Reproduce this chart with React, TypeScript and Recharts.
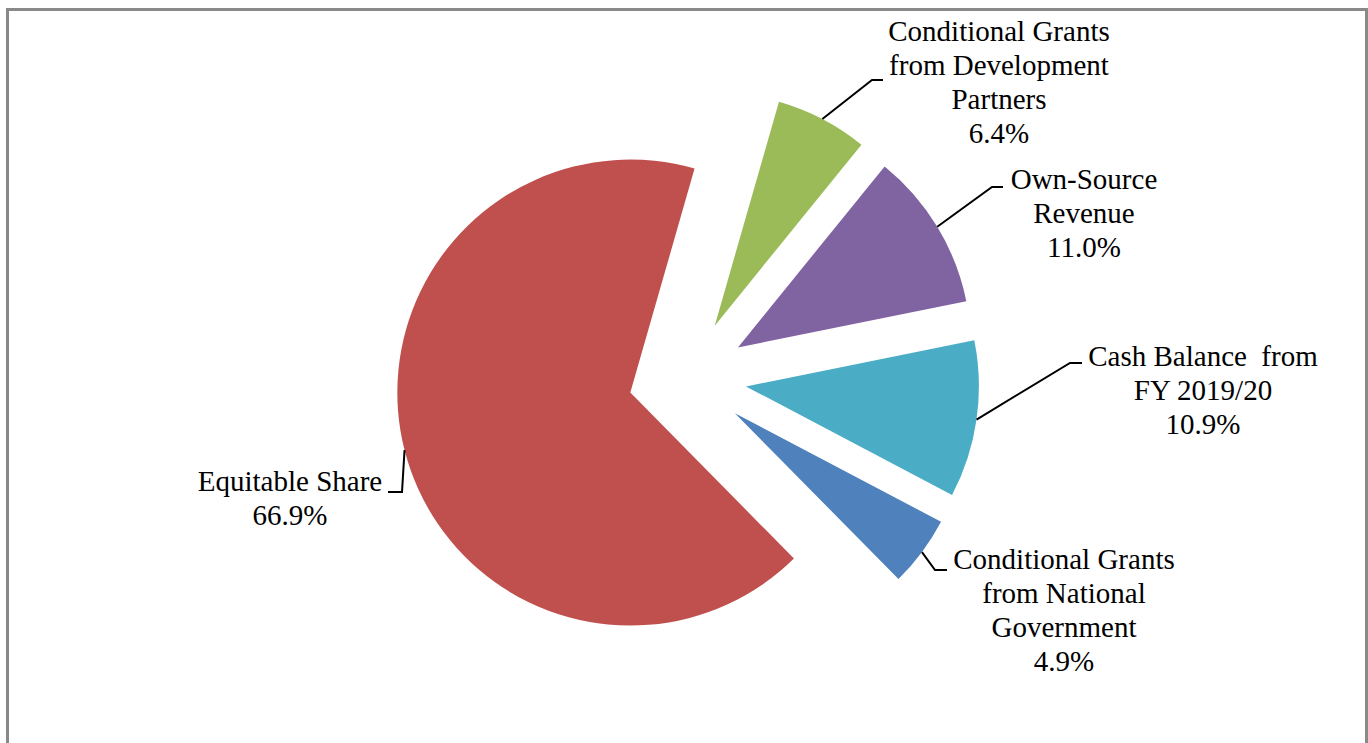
import React from 'react';
import { PieChart, Pie, Cell } from 'recharts';

// ---- data ----
const categories = [
  'Conditional Grants\nfrom Development\nPartners',
  'Own-Source\nRevenue',
  'Cash Balance  from\nFY 2019/20',
  'Conditional Grants\nfrom National\nGovernment',
  'Equitable Share',
];
const shares = [6.4, 11.0, 10.9, 4.9, 66.9];
const colors = ['#9BBB59', '#8064A2', '#4BACC6', '#4F81BD', '#C0504D'];

const data = categories.map((name, i) => ({ name, value: shares[i] }));

// ---- layout ----
const W = 1368;
const H = 743;
const CX = 687.5;
const CY = 378;
const R = 233;
const EXPLODE = 59;
const START = 74;
const END = START - 360;
const FONT = "'Liberation Serif', 'Times New Roman', serif";
const FONT_SIZE = 29;
const LINE_H = 34;

// leader elbow / end, text center x, first line center y
const labelLayout = [
  { elbow: [872, 80], end: [883, 80], tx: 999, ty: 31 },
  { elbow: [992, 187], end: [1003, 187], tx: 1084, ty: 179 },
  { elbow: [1070, 363], end: [1082, 363], tx: 1203, ty: 356 },
  { elbow: [935, 570], end: [947, 570], tx: 1064, ty: 559 },
  { elbow: [402, 492], end: [388, 492], tx: 290, ty: 481 },
];

const total = shares.reduce((a, b) => a + b, 0);
let acc = 0;
const mids = shares.map((v) => {
  const m = START - ((acc + v / 2) / total) * 360;
  acc += v;
  return m;
});

const renderLabel = (i: number) => (props: any) => {
  if (props.index !== i) return null;
  const { cx, cy, midAngle, outerRadius, value } = props;
  const rad = (-midAngle * Math.PI) / 180;
  const px = cx + outerRadius * Math.cos(rad);
  const py = cy + outerRadius * Math.sin(rad);
  const lay = labelLayout[i];
  const lines = [...categories[i].split('\n'), `${Number(value).toFixed(1)}%`];
  return (
    <g key={`lbl-${i}`}>
      <polyline
        points={`${px},${py} ${lay.elbow[0]},${lay.elbow[1]} ${lay.end[0]},${lay.end[1]}`}
        fill="none"
        stroke="#000"
        strokeWidth={2}
      />
      <text
        textAnchor="middle"
        fontFamily={FONT}
        fontSize={FONT_SIZE}
        fill="#000"
        style={{ whiteSpace: 'pre' }}
      >
        {lines.map((l, k) => (
          <tspan key={k} x={lay.tx} y={lay.ty + k * LINE_H + 10}>
            {l}
          </tspan>
        ))}
      </text>
    </g>
  );
};

export default function App() {
  return (
    <div
      style={{
        position: 'absolute',
        left: 0,
        top: 0,
        width: W,
        height: H,
        overflow: 'hidden',
        background: '#fff',
      }}
    >
      <div
        style={{
          position: 'absolute',
          left: 6,
          top: 8,
          width: 1362,
          height: 800,
          border: '3px solid #898989',
          boxSizing: 'border-box',
        }}
      />
      <div style={{ position: 'absolute', left: 0, top: 0 }}>
        <PieChart width={W} height={H} margin={{ top: 0, right: 0, bottom: 0, left: 0 }}>
          {data.map((_, i) => {
            const rad = (mids[i] * Math.PI) / 180;
            const cx = CX + EXPLODE * Math.cos(rad);
            const cy = CY - EXPLODE * Math.sin(rad);
            return (
              <Pie
                key={i}
                data={data}
                dataKey="value"
                nameKey="name"
                cx={cx}
                cy={cy}
                innerRadius={0}
                outerRadius={R}
                startAngle={START}
                endAngle={END}
                stroke="none"
                isAnimationActive={false}
                labelLine={false}
                label={renderLabel(i)}
              >
                {data.map((d, j) => (
                  <Cell key={j} fill={j === i ? colors[j] : 'none'} stroke="none" />
                ))}
              </Pie>
            );
          })}
        </PieChart>
      </div>
    </div>
  );
}
